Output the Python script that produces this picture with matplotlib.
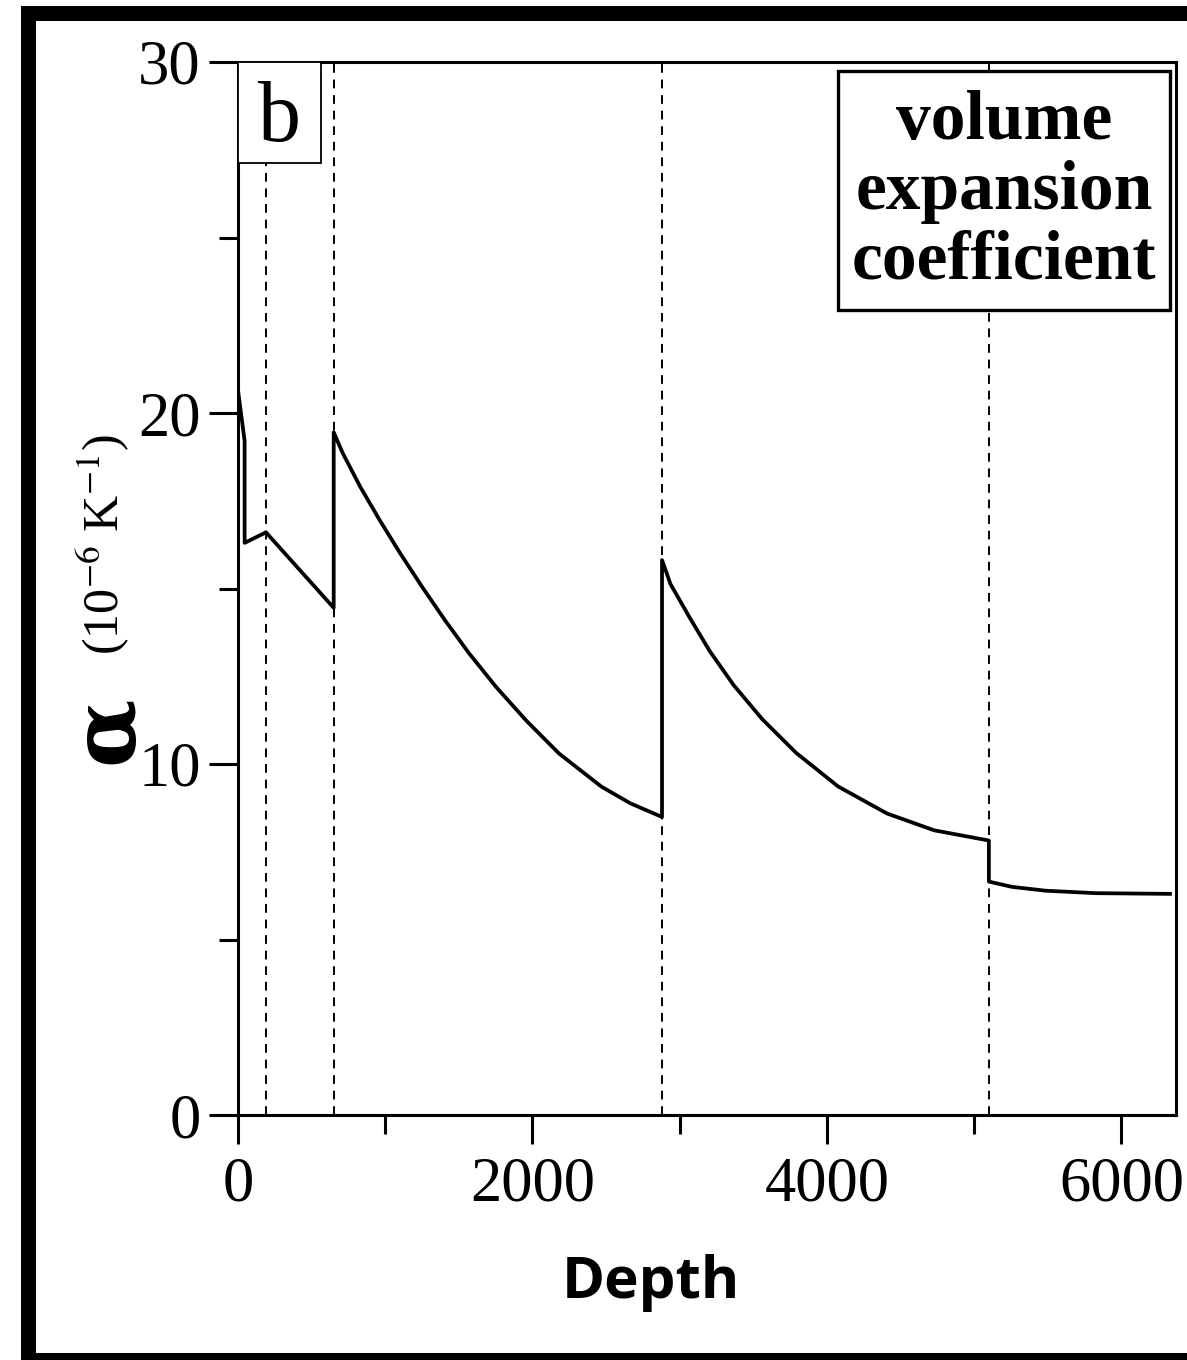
import numpy as np
import matplotlib
matplotlib.use("Agg")
import matplotlib.pyplot as plt
from matplotlib.patches import Rectangle
from matplotlib.ticker import MultipleLocator

plt.rcParams['font.family'] = ['Liberation Serif', 'DejaVu Serif']
plt.rcParams['mathtext.fontset'] = 'stix'

# depth (km) and thermal expansion coefficient alpha (1e-6 / K)
depth = [0, 45, 45, 190, 650,
         650, 712, 830, 962, 1102, 1250, 1405, 1570, 1752, 1955, 2180, 2470, 2665, 2880,
         2880, 2937, 3068, 3205, 3366, 3560, 3790, 4076, 4408, 4729, 5100,
         5100, 5256, 5486, 5825, 6330]
alpha = [20.65, 19.2, 16.3, 16.6, 14.45,
         19.45, 18.85, 17.9, 16.95, 16.0, 15.05, 14.1, 13.15, 12.2, 11.25, 10.3, 9.35, 8.88, 8.49,
         15.81, 15.13, 14.17, 13.21, 12.25, 11.28, 10.32, 9.36, 8.59, 8.11, 7.82,
         6.65, 6.5, 6.39, 6.32, 6.30]

# discontinuities marked with dashed lines
boundaries = [190, 650, 2880, 5100]

W, H = 1187, 1360
fig = plt.figure(figsize=(W / 100, H / 100), dpi=100)
fig.patch.set_facecolor('white')

# axes box in pixels: left 238, right 1176, top 62, bottom 1115
ax = fig.add_axes([238 / W, 1 - 1115 / H, (1176 - 238) / W, (1115 - 62) / H])

for b in boundaries:
    ax.axvline(b, color='black', lw=1.4, linestyle=(0, (4.5, 3.5)), zorder=1)

ax.plot(depth, alpha, color='black', lw=2.7, zorder=3)

ax.set_xlim(0, 6371)
ax.set_ylim(0, 30)

ax.xaxis.set_major_locator(MultipleLocator(2000))
ax.xaxis.set_minor_locator(MultipleLocator(1000))
ax.yaxis.set_major_locator(MultipleLocator(10))
ax.yaxis.set_minor_locator(MultipleLocator(5))

ax.tick_params(which='major', direction='out', length=21, width=2.2, labelsize=45,
               top=False, right=False)
ax.tick_params(which='minor', direction='out', length=14, width=2.2,
               top=False, right=False)
ax.tick_params(axis='x', which='major', pad=9)
ax.tick_params(axis='y', which='major', pad=6)

for s in ax.spines.values():
    s.set_linewidth(2.2)

# panel letter box
ax.add_patch(Rectangle((0, 1 - 101 / 1053), 83 / 938, 101 / 1053, transform=ax.transAxes,
                       facecolor='white', edgecolor='black', lw=1.3, zorder=5, clip_on=False))
ax.text(42 / 938, 1 - 58 / 1053, 'b', transform=ax.transAxes, ha='center', va='center',
        fontsize=62, zorder=6)

# title box
ax.add_patch(Rectangle(((838 - 238) / 938, (1115 - 310) / 1053), (1170 - 838) / 938,
                       (310 - 71) / 1053, transform=ax.transAxes,
                       facecolor='white', edgecolor='black', lw=2.4, zorder=5, clip_on=False))
ax.text((1004 - 238) / 938, (1115 - 192) / 1053, 'volume\nexpansion\ncoefficient',
        transform=ax.transAxes, ha='center', va='center', fontsize=50, fontweight='bold',
        linespacing=1.12, zorder=6)

# y label: alpha and units
fig.text(108 / W, 1 - 730 / H, 'α', rotation=90, ha='center', va='center',
         fontsize=64, fontweight='bold', family='DejaVu Serif')
fig.text(103 / W, 1 - 545 / H, '(10$^{-6}$ K$^{-1}$)', rotation=90, ha='center', va='center',
         fontsize=36)

# x label
fig.text(651 / W, 1 - 1298 / H, 'Depth', ha='center', va='baseline', fontsize=42,
         fontweight='bold', family='Open Sans')

# outer black frame (right side runs off the image)
fig.add_artist(Rectangle((27.5 / W, 1 - 1360 / H), 1.2, (1360 - 12.5) / H,
                         transform=fig.transFigure, fill=False, edgecolor='black', lw=10.8))

fig.savefig('out.png', dpi=100)
